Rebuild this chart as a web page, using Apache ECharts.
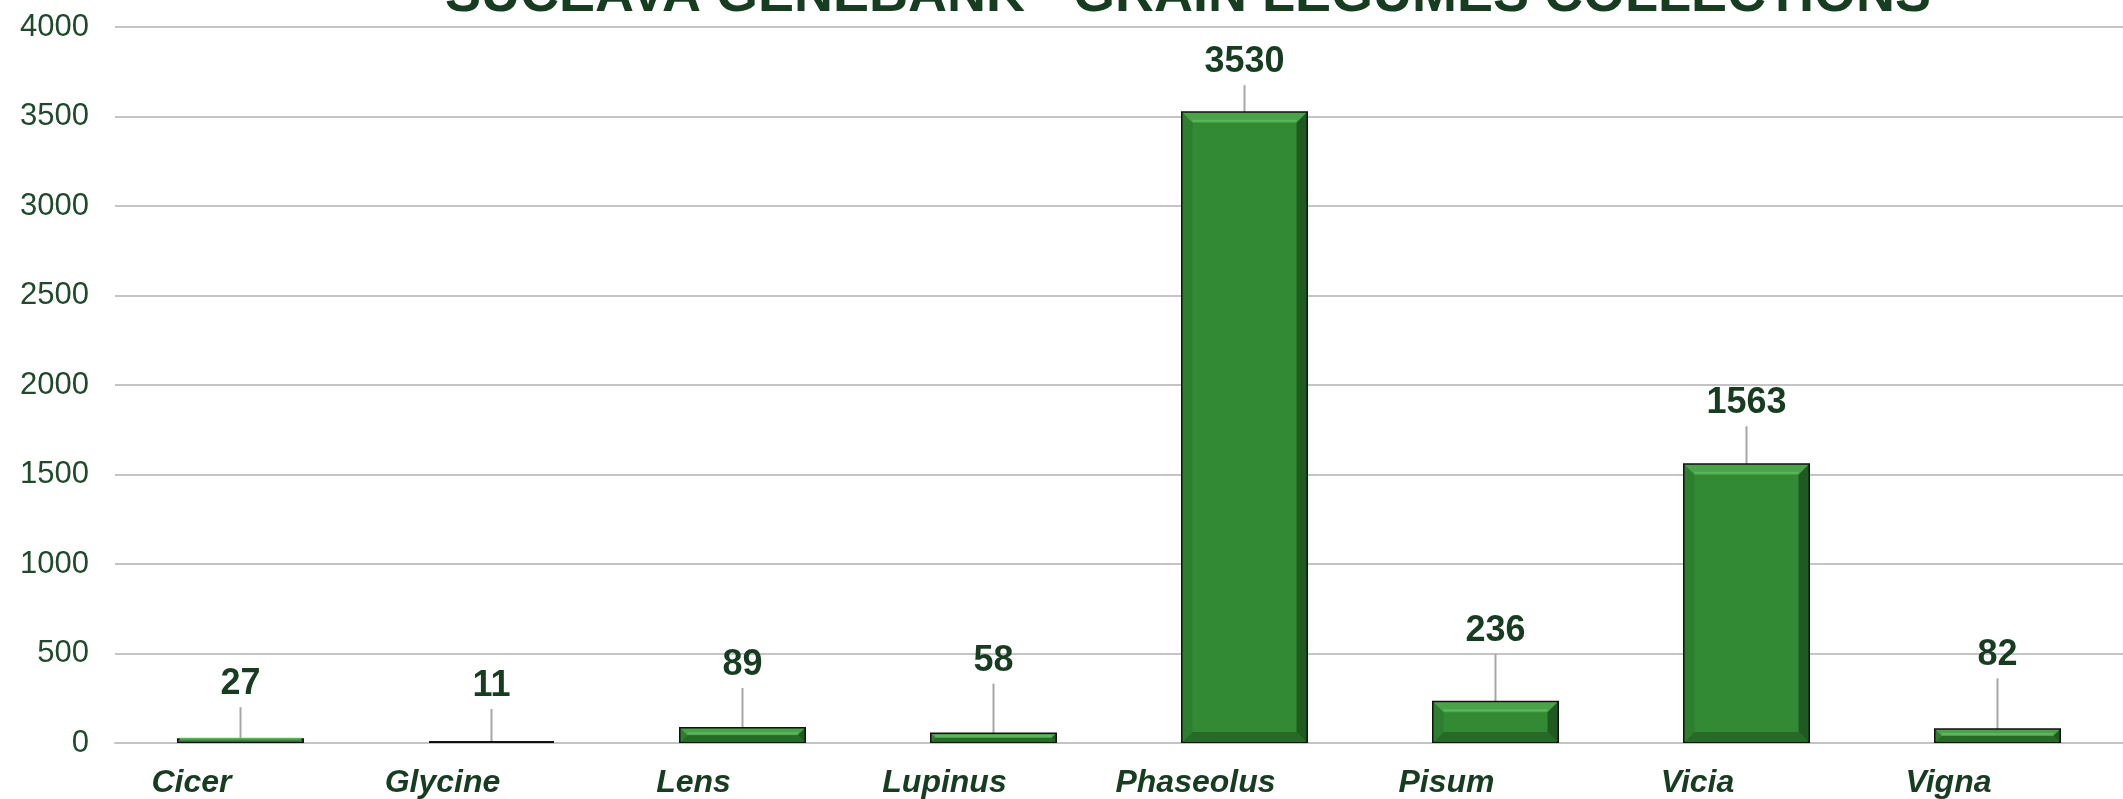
<!DOCTYPE html>
<html>
<head>
<meta charset="utf-8">
<script src="https://cdn.jsdelivr.net/npm/echarts@6/dist/echarts.min.js"></script>
<style>
  html, body { margin: 0; padding: 0; background: #fff; }
  #chart { width: 2123px; height: 799px; }
</style>
</head>
<body>
<div id="chart"></div>
<script>
var genera = ["Cicer", "Glycine", "Lens", "Lupinus", "Phaseolus", "Pisum", "Vicia", "Vigna"];
var accessions = [27, 11, 89, 58, 3530, 236, 1563, 82];
var yTicks = [0, 500, 1000, 1500, 2000, 2500, 3000, 3500, 4000];
// how far each value label was dragged up above its bar (px)
var labelLift = [31, 32, 39, 49, 26, 47, 37, 50];

var textGreen = "#173d21";
var barW = 127;

var myChart = echarts.init(document.getElementById("chart"));

function renderBevel(params, api) {
    var top = api.coord([api.value(0), api.value(1)]);
    var base = api.coord([api.value(0), 0]);
    var x0 = top[0] - barW / 2 + 1.5, x1 = top[0] + barW / 2 - 1.5;
    var y0 = top[1] + 1.5, y1 = base[1] - 1;
    var h = y1 - y0;
    if (h <= 2) return;
    var b = Math.min(10, h / 2);
    return {
        type: "group",
        silent: true,
        children: [
            { type: "polygon", shape: { points: [[x0, y0], [x1, y0], [x1 - b, y0 + b], [x0 + b, y0 + b]] }, style: { fill: "#49a449" } },
            { type: "polygon", shape: { points: [[x0 + b, y0 + b - 3], [x1 - b, y0 + b - 3], [x1 - b, y0 + b - 1], [x0 + b, y0 + b - 1]] }, style: { fill: "#5cb65c" } },
            { type: "polygon", shape: { points: [[x1, y0], [x1, y1], [x1 - b, y1 - b], [x1 - b, y0 + b]] }, style: { fill: "#1f5a21" } },
            { type: "polygon", shape: { points: [[x0, y1], [x1, y1], [x1 - b, y1 - b], [x0 + b, y1 - b]] }, style: { fill: "#276a28" } },
            { type: "polygon", shape: { points: [[x0, y0], [x0 + b, y0 + b], [x0 + b, y1 - b], [x0, y1]] }, style: { fill: "#2e7e2f" } }
        ]
    };
}

var option = {
    animation: false,
    title: {
        text: "SUCEAVA GENEBANK - GRAIN LEGUMES COLLECTIONS",
        left: 1188,
        textAlign: "center",
        top: -31,
        padding: 0,
        textStyle: {
            fontFamily: "Liberation Sans, Arial, sans-serif",
            fontSize: 54,
            fontWeight: "bold",
            color: textGreen,
            lineHeight: 54
        }
    },
    grid: { left: 115, right: 0, top: 27, bottom: 56, containLabel: false },
    xAxis: {
        type: "category",
        data: genera,
        axisTick: { show: false },
        axisLine: { show: true, lineStyle: { color: "#c4c4c4", width: 2 } },
        axisLabel: {
            margin: 24,
            padding: [0, 98, 0, 0],
            fontFamily: "Liberation Sans, Arial, sans-serif",
            fontSize: 32,
            fontWeight: "bold",
            fontStyle: "italic",
            color: textGreen
        }
    },
    yAxis: {
        type: "value",
        min: yTicks[0],
        max: yTicks[yTicks.length - 1],
        interval: 500,
        axisLine: { show: false },
        axisTick: { show: false },
        splitLine: { lineStyle: { color: "#c4c4c4", width: 2 } },
        axisLabel: {
            margin: 26,
            formatter: function (v) { return String(v); },
            fontFamily: "Liberation Sans, Arial, sans-serif",
            fontSize: 31,
            color: "#1f4a2b"
        }
    },
    series: [
        {
            type: "bar",
            data: accessions,
            barWidth: barW,
            itemStyle: { color: "#338a34", borderColor: "#111", borderWidth: 2 },
            label: {
                show: true,
                position: "top",
                distance: 0,
                padding: [0, 0, 5, 0],
                lineHeight: 36,
                fontFamily: "Liberation Sans, Arial, sans-serif",
                fontSize: 36,
                fontWeight: "bold",
                color: textGreen
            },
            labelLayout: function (params) {
                return { dy: -labelLift[params.dataIndex] };
            },
            labelLine: { show: true, lineStyle: { color: "#a6a6a6", width: 2 } }
        },
        {
            type: "custom",
            renderItem: renderBevel,
            data: accessions.map(function (v, i) { return [i, v]; }),
            silent: true,
            z: 3
        }
    ]
};
myChart.setOption(option);
</script>
</body>
</html>
